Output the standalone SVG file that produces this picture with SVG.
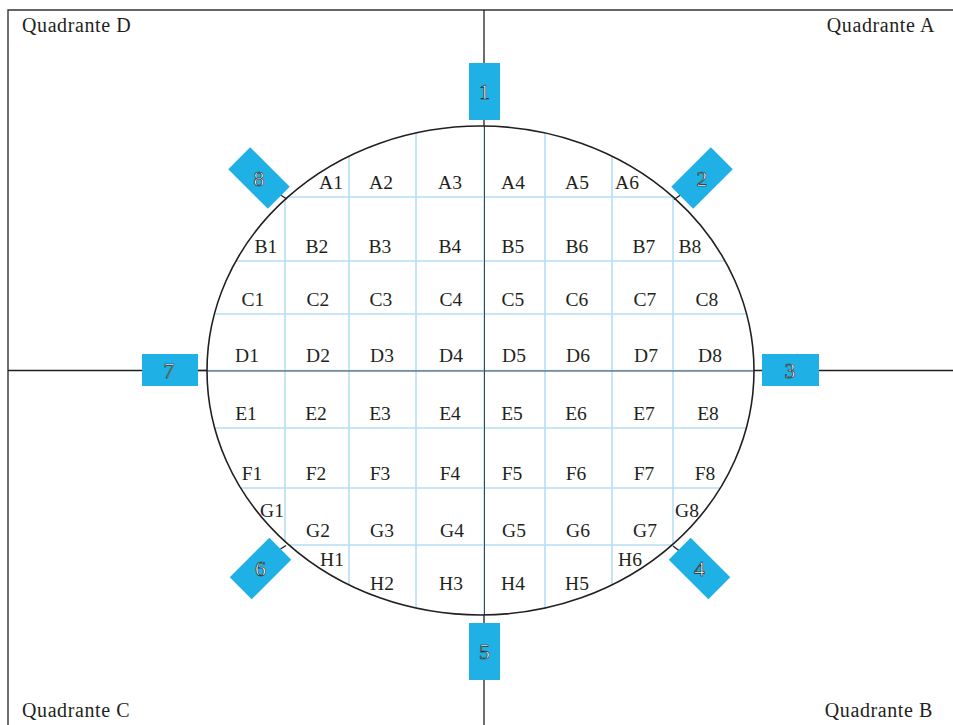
<svg xmlns="http://www.w3.org/2000/svg" width="953" height="725" viewBox="0 0 953 725">
  <style>
    .frame { stroke: #333; stroke-width: 1.4; fill: none; }
    .axis { stroke: #231f20; stroke-width: 1.3; fill: none; }
    .grid { stroke: #b5dff4; stroke-width: 1.6; fill: none; }
    .axin { stroke: #3a4650; stroke-width: 1; fill: none; }
    .tick { stroke: #231f20; stroke-width: 1.4; }
    .badge { fill: #1fb0e6; }
    .num { font-family: "Liberation Serif", "DejaVu Serif", serif; font-size: 22px; fill: #fff; stroke: #231f20; stroke-width: 0.65; text-anchor: middle; }
    .cell { font-family: "Liberation Serif", "DejaVu Serif", serif; font-size: 19.5px; fill: #231f20; text-anchor: middle; }
    .quad { font-family: "Liberation Serif", "DejaVu Serif", serif; font-size: 20px; fill: #231f20; letter-spacing: 0.6px; }
  </style>
  <defs>
    <clipPath id="inside">
      <ellipse cx="480.5" cy="370.5" rx="273.5" ry="244.5"/>
    </clipPath>
  </defs>

  <rect width="953" height="725" fill="#fff"/>

  <!-- outer frame: top and left edges only -->
  <polyline class="frame" points="8,725 8,10 953,10"/>

  <!-- quadrant captions -->
  <g id="quadrants">
    <text class="quad" x="22" y="32">Quadrante D</text>
    <text class="quad" x="935" y="32" text-anchor="end">Quadrante A</text>
    <text class="quad" x="22" y="717">Quadrante C</text>
    <text class="quad" x="933" y="717" text-anchor="end">Quadrante B</text>
  </g>

  <!-- connectors: axes, grid inside the ellipse and the small ticks -->
  <g id="connectors">
    <line class="axis" x1="484" y1="10" x2="484" y2="725"/>
    <line class="axis" x1="8" y1="370.5" x2="953" y2="370.5"/>
    <line class="axis" x1="198" y1="370.5" x2="208" y2="370.5" stroke-width="2.4"/>
    <g clip-path="url(#inside)">
      <rect x="200" y="120" width="560" height="500" fill="#fff"/>
      <g class="grid">
        <line x1="285" y1="100" x2="285" y2="640"/>
        <line x1="349" y1="100" x2="349" y2="640"/>
        <line x1="416" y1="100" x2="416" y2="640"/>
        <line x1="484" y1="100" x2="484" y2="640"/>
        <line x1="545" y1="100" x2="545" y2="640"/>
        <line x1="612" y1="100" x2="612" y2="640"/>
        <line x1="673" y1="100" x2="673" y2="640"/>
        <line x1="190" y1="197" x2="770" y2="197"/>
        <line x1="190" y1="261" x2="770" y2="261"/>
        <line x1="190" y1="314" x2="770" y2="314"/>
        <line x1="190" y1="370.5" x2="770" y2="370.5"/>
        <line x1="190" y1="428" x2="770" y2="428"/>
        <line x1="190" y1="488" x2="770" y2="488"/>
        <line x1="190" y1="545" x2="770" y2="545"/>
      </g>
      <line class="axin" x1="484.5" y1="100" x2="484.5" y2="640"/>
      <line class="axin" x1="190" y1="371" x2="770" y2="371"/>
    </g>
    <ellipse cx="480.5" cy="370.5" rx="273.5" ry="244.5" fill="none" stroke="#231f20" stroke-width="1.6"/>
    <line class="tick" x1="280.5" y1="195" x2="287" y2="199"/>
    <line class="tick" x1="674" y1="199.5" x2="680.5" y2="195"/>
    <line class="tick" x1="280.5" y1="549" x2="286" y2="545.5"/>
    <line class="tick" x1="673" y1="546" x2="679.5" y2="551"/>
  </g>

  <!-- numbered markers -->
  <g id="m1"><rect class="badge" x="469" y="63" width="31" height="57"/><text class="num" x="484.5" y="98.5">1</text></g>
  <g id="m2" transform="translate(702,178) rotate(-45)"><rect class="badge" x="-28" y="-15.5" width="56" height="31"/><text class="num" x="0" y="7.5" transform="rotate(45)">2</text></g>
  <g id="m3"><rect class="badge" x="762" y="354" width="57" height="32"/><text class="num" x="790" y="377.5">3</text></g>
  <g id="m4" transform="translate(699.5,568.5) rotate(45)"><rect class="badge" x="-28" y="-15.5" width="56" height="31"/><text class="num" x="0" y="7.5" transform="rotate(-45)">4</text></g>
  <g id="m5"><rect class="badge" x="469" y="623" width="31" height="57"/><text class="num" x="484.5" y="658.5">5</text></g>
  <g id="m6" transform="translate(260.5,568.5) rotate(-45)"><rect class="badge" x="-28" y="-15.5" width="56" height="31"/><text class="num" x="0" y="7.5" transform="rotate(45)">6</text></g>
  <g id="m7"><rect class="badge" x="142" y="354" width="56" height="32"/><text class="num" x="169" y="377.5">7</text></g>
  <g id="m8" transform="translate(259,178) rotate(45)"><rect class="badge" x="-28" y="-15.5" width="56" height="31"/><text class="num" x="0" y="7.5" transform="rotate(-45)">8</text></g>

  <!-- cell labels -->
  <g id="row-A" class="cell">
    <text x="331" y="189">A1</text><text x="381" y="189">A2</text><text x="450" y="189">A3</text>
    <text x="513" y="189">A4</text><text x="577" y="189">A5</text><text x="627" y="189">A6</text>
  </g>
  <g id="row-B" class="cell">
    <text x="266" y="253">B1</text><text x="317" y="253">B2</text><text x="380" y="253">B3</text><text x="450" y="253">B4</text>
    <text x="513" y="253">B5</text><text x="577" y="253">B6</text><text x="644" y="253">B7</text><text x="690" y="253">B8</text>
  </g>
  <g id="row-C" class="cell">
    <text x="253" y="306">C1</text><text x="318" y="306">C2</text><text x="381" y="306">C3</text><text x="451" y="306">C4</text>
    <text x="513" y="306">C5</text><text x="577" y="306">C6</text><text x="645" y="306">C7</text><text x="707" y="306">C8</text>
  </g>
  <g id="row-D" class="cell">
    <text x="247" y="362">D1</text><text x="318" y="362">D2</text><text x="382" y="362">D3</text><text x="451" y="362">D4</text>
    <text x="514" y="362">D5</text><text x="578" y="362">D6</text><text x="646" y="362">D7</text><text x="710" y="362">D8</text>
  </g>
  <g id="row-E" class="cell">
    <text x="246" y="420">E1</text><text x="316" y="420">E2</text><text x="380" y="420">E3</text><text x="450" y="420">E4</text>
    <text x="512" y="420">E5</text><text x="576" y="420">E6</text><text x="644" y="420">E7</text><text x="708" y="420">E8</text>
  </g>
  <g id="row-F" class="cell">
    <text x="252" y="480">F1</text><text x="316" y="480">F2</text><text x="380" y="480">F3</text><text x="450" y="480">F4</text>
    <text x="512" y="480">F5</text><text x="576" y="480">F6</text><text x="644" y="480">F7</text><text x="705" y="480">F8</text>
  </g>
  <g id="row-G" class="cell">
    <text x="272" y="517">G1</text><text x="318" y="537">G2</text><text x="382" y="537">G3</text><text x="452" y="537">G4</text>
    <text x="514" y="537">G5</text><text x="578" y="537">G6</text><text x="645" y="537">G7</text><text x="687" y="517">G8</text>
  </g>
  <g id="row-H" class="cell">
    <text x="332" y="566">H1</text><text x="382" y="590">H2</text><text x="451" y="590">H3</text>
    <text x="513" y="590">H4</text><text x="577" y="590">H5</text><text x="630" y="566">H6</text>
  </g>
</svg>
